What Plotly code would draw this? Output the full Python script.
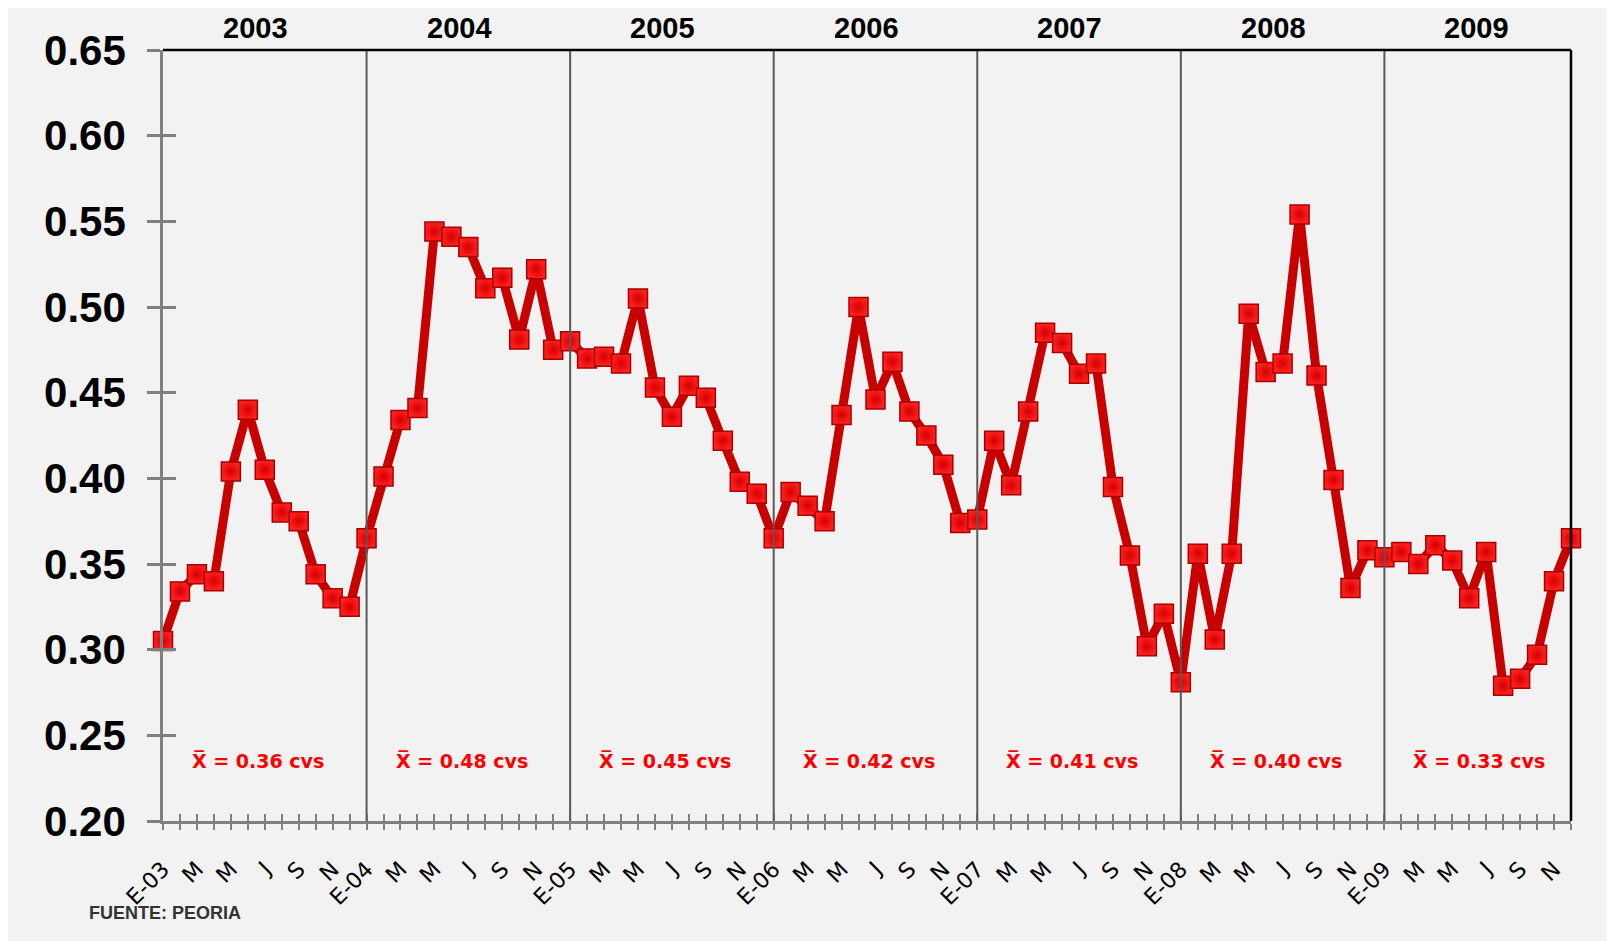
import plotly.graph_objects as go

years = ["2003", "2004", "2005", "2006", "2007", "2008", "2009"]
month_labels = ["E", "", "M", "", "M", "", "J", "", "S", "", "N", ""]

v2003 = [0.305, 0.334, 0.344, 0.340, 0.404, 0.440, 0.405, 0.380, 0.375, 0.344, 0.330, 0.325]
v2004 = [0.365, 0.401, 0.434, 0.441, 0.544, 0.541, 0.535, 0.511, 0.517, 0.481, 0.522, 0.475]
v2005 = [0.480, 0.470, 0.471, 0.467, 0.505, 0.453, 0.436, 0.454, 0.447, 0.422, 0.398, 0.391]
v2006 = [0.365, 0.392, 0.384, 0.375, 0.437, 0.500, 0.446, 0.468, 0.439, 0.425, 0.408, 0.374]
v2007 = [0.376, 0.422, 0.396, 0.439, 0.485, 0.479, 0.461, 0.467, 0.395, 0.355, 0.302, 0.321]
v2008 = [0.281, 0.356, 0.306, 0.356, 0.496, 0.462, 0.467, 0.554, 0.460, 0.399, 0.336, 0.358]
v2009 = [0.354, 0.357, 0.350, 0.361, 0.352, 0.330, 0.357, 0.279, 0.283, 0.297, 0.340, 0.365]

means = ["0.36", "0.48", "0.45", "0.42", "0.41", "0.40", "0.33"]
y_ticks = [0.20, 0.25, 0.30, 0.35, 0.40, 0.45, 0.50, 0.55, 0.60, 0.65]

values = v2003 + v2004 + v2005 + v2006 + v2007 + v2008 + v2009
x = list(range(len(values)))
ticktext = []
for yr in years:
    for m, lab in enumerate(month_labels):
        ticktext.append(f"E-{yr[2:]}" if m == 0 else lab)

GRAY = "#808080"
fig = go.Figure()
fig.add_trace(go.Scatter(
    x=x, y=values, mode="lines+markers", cliponaxis=False, showlegend=False,
    line=dict(color="#c80000", width=9),
    marker=dict(symbol="square", size=19, color="#ff2020",
                line=dict(color="#a80000", width=1.5),
                gradient=dict(type="radial", color="#d40000")),
))
# helper trace so the overlay axes (crossing ticks) are drawn
fig.add_trace(go.Scatter(
    x=x, y=values, xaxis="x2", yaxis="y2", mode="lines", opacity=0,
    line=dict(width=0), hoverinfo="skip", showlegend=False,
))

shapes = []
for k in range(1, len(years)):
    shapes.append(dict(type="line", xref="x", yref="paper", x0=12 * k, x1=12 * k,
                       y0=0, y1=1, line=dict(color="#595959", width=2)))
shapes.append(dict(type="line", xref="paper", yref="paper", x0=0, x1=1, y0=1, y1=1,
                   line=dict(color="black", width=2.5)))
shapes.append(dict(type="line", xref="paper", yref="paper", x0=1, x1=1, y0=0, y1=1,
                   line=dict(color="black", width=2.5)))

annotations = []
for i, yr in enumerate(years):
    annotations.append(dict(x=12 * i + 5.45, y=1.029, xref="x", yref="paper", text=yr,
                            showarrow=False, yanchor="middle",
                            font=dict(family="Liberation Sans, Arial", size=29, color="black", weight="bold")))
    annotations.append(dict(x=12 * i + 5.6, y=0.235, xref="x", yref="y",
                            text="X\u0305 = " + means[i] + " cvs", showarrow=False,
                            font=dict(family="DejaVu Sans, Verdana", size=19, color="#ff0000", weight="bold")))
annotations.append(dict(x=-0.054, y=-0.1193, xref="paper", yref="paper", text="FUENTE: PEORIA",
                        showarrow=False, xanchor="left", yanchor="middle",
                        font=dict(family="Liberation Sans, Arial", size=18, color="#333333", weight="bold")))

fig.update_layout(
    width=1607, height=933,
    margin=dict(l=155, r=44, t=42, b=120),
    paper_bgcolor="#f2f2f2", plot_bgcolor="#f2f2f2",
    shapes=shapes, annotations=annotations,
    xaxis=dict(range=[0, len(values) - 1], tickmode="array", tickvals=x, ticktext=ticktext,
               tickangle=-45, ticks="outside", ticklen=6, tickwidth=2, tickcolor=GRAY,
               showline=True, linecolor=GRAY, linewidth=2.5, showgrid=False, zeroline=False,
               ticklabelstandoff=18,
               tickfont=dict(family="DejaVu Sans, Verdana", size=22, color="black")),
    xaxis2=dict(range=[0, len(values) - 1], overlaying="x", anchor="y", side="bottom",
                tickmode="array", tickvals=x, ticks="inside", ticklen=7, tickwidth=2,
                tickcolor=GRAY, showticklabels=False, showline=False, showgrid=False, zeroline=False),
    yaxis=dict(range=[0.20, 0.65], tickmode="array", tickvals=y_ticks, tickformat=".2f",
               ticks="outside", ticklen=13, tickwidth=2.5, tickcolor=GRAY,
               showline=True, linecolor=GRAY, linewidth=2.5, showgrid=False, zeroline=False,
               ticklabelstandoff=13,
               tickfont=dict(family="Liberation Sans, Arial", size=42, color="black", weight="bold")),
    yaxis2=dict(range=[0.20, 0.65], overlaying="y", anchor="x", side="left",
                tickmode="array", tickvals=y_ticks, ticks="inside", ticklen=13, tickwidth=2.5,
                tickcolor=GRAY, showticklabels=False, showline=False, showgrid=False, zeroline=False),
)

fig.write_html("out.html")
